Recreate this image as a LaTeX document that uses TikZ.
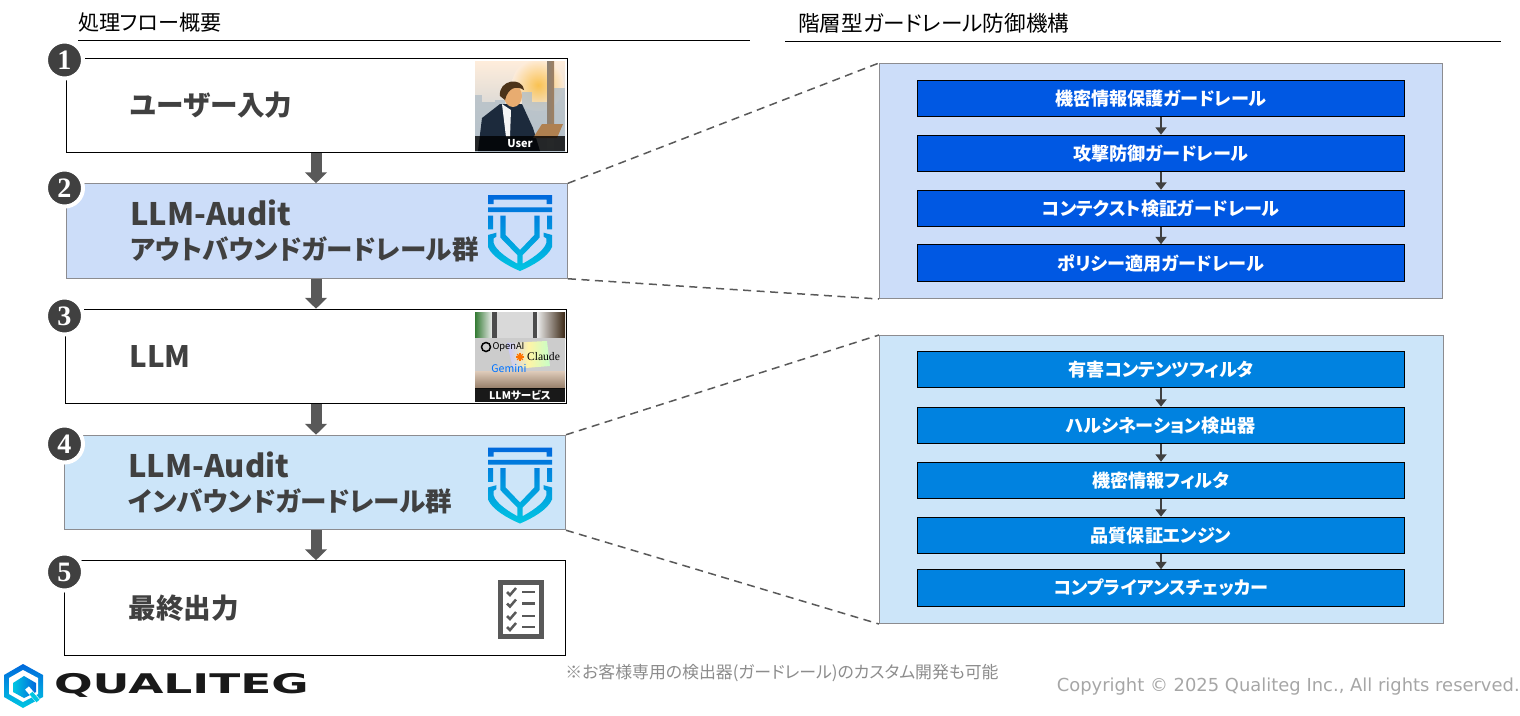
\documentclass[tikz,border=0pt]{standalone}
\usepackage{fontspec}
\usepackage{xcolor}
\setmainfont{Noto Sans CJK JP}[RawFeature={+palt}]
\newfontfamily\cpfont{DejaVu Sans}
\newfontfamily\digitfont{Liberation Serif}
\usetikzlibrary{positioning,calc,arrows.meta}

\definecolor{inkgray}{HTML}{404040}
\definecolor{arrowgray}{HTML}{595959}
\definecolor{edgegray}{HTML}{8C8C90}
\definecolor{outfill}{HTML}{CCDDF9}
\definecolor{infill}{HTML}{CCE5F9}
\definecolor{outblue}{HTML}{0058E3}
\definecolor{inblue}{HTML}{0082E0}
\definecolor{logoblue}{HTML}{0068DC}
\definecolor{logocyan}{HTML}{00C6E2}
\definecolor{suitnavy}{HTML}{1C2A3C}
\definecolor{skyblue}{HTML}{B9C6D0}
\definecolor{deskwood}{HTML}{C9A98C}

\tikzset{
    flowbox/.style={draw=black, line width=0.2mm, minimum width=100.2mm, minimum height=18.9mm,
        inner xsep=12.8mm, inner ysep=0pt, text width=74.6mm, align=left, text=inkgray,
        font=\bfseries\fontsize{15.7}{20.5}\selectfont},
    outbox/.style={flowbox, draw=edgegray, fill=outfill},
    inbox/.style={flowbox, draw=edgegray, fill=infill},
    flowarrow/.style={draw=arrowgray, line width=2.2mm, -{Triangle[length=2.2mm,width=4.3mm]}},
    numdot/.style={circle, fill=inkgray, draw=white, line width=0.8mm, minimum size=7.4mm, inner sep=0pt,
        text=white, font=\digitfont\bfseries\fontsize{16}{16}\selectfont},
    headline/.style={anchor=west, inner sep=0pt, font=\fontsize{12}{14}\selectfont},
    panel/.style={draw=edgegray, line width=0.2mm, anchor=north west, inner sep=0pt},
    guardbox/.style={draw=black, line width=0.2mm, minimum width=97.4mm, minimum height=7.3mm, inner sep=0pt,
        text=white, font=\bfseries\fontsize{10.3}{12}\selectfont},
    guardarrow/.style={draw=inkgray, line width=0.5mm, -{Triangle[length=1.5mm,width=2.2mm]}},
    zoomline/.style={draw=arrowgray, line width=0.3mm, dash pattern=on 1.6mm off 1.1mm},
    phototag/.style={inner sep=0pt, text=white, font=\bfseries\fontsize{6.2}{7}\selectfont},
}

\newcommand{\latinline}[1]{{\fontsize{17.6}{20.5}\selectfont #1}}
\newcommand{\kanaline}[1]{{\fontsize{15.1}{20.5}\selectfont #1}}

% shield mark, top left corner at (#1,#2)
\newcommand{\shieldmark}[2]{
    \begin{scope}[shift={(#1,#2)}]
        \shade[top color=logoblue, bottom color=logocyan]
            (0,0) -- (64,0) -- (64,9) -- (58.5,9) -- (58.5,4.5) -- (5.5,4.5) -- (5.5,9) -- (0,9) -- cycle
            (0,12.3) -- (64,12.3) -- (64,17) -- (0,17) -- cycle
            (0,20.7) -- (5,20.7) -- (5,34.3) -- (0,34.3) -- cycle
            (59,20.7) -- (64,20.7) -- (64,34.3) -- (59,34.3) -- cycle
            (12.3,20.7) -- (17.7,20.7) -- (17.7,40) -- (32,55) -- (46.3,40) -- (46.3,20.7) -- (51.7,20.7) -- (51.7,42.5)
                -- (34.7,60) -- (34.7,72) -- (29.3,72) -- (29.3,60) -- (12.3,42.5) -- cycle
            (0,40) -- (8.3,37.7) -- (8.3,41.7) -- (5.7,43.3) -- (5.7,48)
                .. controls (8,56) and (22,65) .. (32,70) .. controls (42,65) and (56,56) .. (58.3,48)
                -- (58.3,43.3) -- (55.7,41.7) -- (55.7,37.7) -- (64,40) -- (64,52)
                .. controls (60,62) and (44,71) .. (32,76) .. controls (20,71) and (4,62) .. (0,52) -- cycle;
    \end{scope}
}

\begin{document}
\begin{tikzpicture}[x=0.2mm, y=-0.2mm]
    \useasboundingbox (0,0) rectangle (1520,715);

    % Section heads
    \node [headline] (headleft) at (78,23) {処理フロー概要};
    \node [headline, font=\fontsize{12.3}{14}\selectfont] (headright) at (798,23) {階層型ガードレール防御機構};
    \draw [line width=0.2mm] (78,40.5) -- (750,40.5);
    \draw [line width=0.2mm] (785,41) -- (1501,41);

    % Flow boxes
    \node [flowbox] (user) at (317,105.5) {ユーザー入力};
    \node [outbox] (auditout) at (317,231) {\latinline{LLM-Audit}\\[-1.1pt]\kanaline{アウトバウンドガードレール群}};
    \node [flowbox] (llm) at (316,356.5) {\fontsize{16.8}{20.5}\selectfont LLM};
    \node [inbox] (auditin) at (315,482.5) {\latinline{LLM-Audit}\\[-1.1pt]\kanaline{インバウンドガードレール群}};
    \node [flowbox] (final) at (315,608) {最終出力};

    % Arrows between them
    \draw [flowarrow] ([xshift=-0.2mm]user.south) -- ([xshift=-0.2mm]auditout.north);
    \draw [flowarrow] ([xshift=-0.2mm]auditout.south) -- (llm.north);
    \draw [flowarrow] (llm.south) -- (llm.south |- auditin.north);
    \draw [flowarrow] ([xshift=0.2mm]auditin.south) -- ([xshift=0.2mm]final.north);

    % Step numbers
    \foreach \i/\y in {1/60,2/188,3/316,4/444,5/572} {
        \node [numdot] (step\i) at (64.5,\y) {\i};
    }

    % User picture
    \begin{scope}
        \clip (475,61) rectangle (565,151);
        \shade [top color=orange!14!white, bottom color=skyblue] (475,61) rectangle (565,151);
        \shade [inner color=orange!65!yellow!90!white, outer color=orange!14!white, opacity=0.7] (538,85) circle [radius=26];
        \foreach \xa/\ya/\xb in {475/95/482,482/102/495,495/100/505,522/92/532,532/102/547,554/88/565} {
            \fill [skyblue!90!gray, opacity=0.8] (\xa,\ya) rectangle (\xb,151);
        }
        \shade [left color=gray!80!brown, right color=brown!50!gray] (547,61) rectangle (554,135);
        \fill [suitnavy] (478,151) -- (482,118) -- (500,104) -- (522,104) -- (533,128) -- (540,151) -- cycle;
        \fill [white!92!gray] (502,104) -- (511,110) -- (510,137) -- (506,137) -- cycle;
        \fill [orange!45!brown!65!white] (513,96) ellipse [x radius=9, y radius=11];
        \fill [black!60!brown] (500,96) .. controls (498,80) and (522,76) .. (524,90) .. controls (516,85) and (508,88) .. (505,100) -- cycle;
        \fill [brown!75!gray] (542,124) -- (563,124) -- (557,138) -- (533,138) -- cycle;
        \fill [black, opacity=0.8] (475,136) rectangle (565,151);
        \node [phototag] (usertag) at (520,144) {User};
    \end{scope}

    % LLM picture
    \begin{scope}
        \clip (475,312) rectangle (565,402);
        \fill [black!15!white] (475,312) rectangle (565,338);
        \shade [left color=black!65!green!80!white, right color=gray!15!white] (475,312) rectangle (492,338);
        \shade [left color=gray!15!white, right color=black!70!brown] (537,312) rectangle (565,338);
        \foreach \xa/\xb in {492/497,533/537} {
            \fill [black!70!white] (\xa,312) rectangle (\xb,338);
        }
        \fill [gray!40!white] (475,338) rectangle (565,371);
        \shade [left color=blue!22!white, right color=green!22!white, middle color=orange!25!yellow!35!white] (507,343) -- (547,341) -- (550,366) -- (513,369) -- cycle;
        \shade [top color=deskwood!60!white, bottom color=deskwood!75!black] (475,371) rectangle (565,388);
        \fill [black, opacity=0.9] (475,388) rectangle (565,402);
        \draw [black, line width=0.3mm] (486,347) circle [radius=4.5];
        \foreach \a in {0,45,...,315} {
            \draw [orange!90!red, line width=0.25mm] (520,357) -- ++(\a:4);
        }
        \node [inner sep=0pt, text=black, font=\fontsize{5.3}{6}\selectfont] (openai) at (508.5,347) {OpenAI};
        \node [inner sep=0pt, text=black, font=\digitfont\fontsize{6.6}{7}\selectfont] (claude) at (543.5,357) {Claude};
        \node [inner sep=0pt, text=blue!55!cyan, font=\fontsize{6}{7}\selectfont] (gemini) at (509,368) {Gemini};
        \node [phototag, font=\bfseries\fontsize{6}{7}\selectfont] (llmtag) at (520,395) {LLMサービス};
    \end{scope}

    % Shield marks
    \shieldmark{488}{195}
    \shieldmark{488}{447.5}

    % Checklist icon
    \draw [arrowgray, line width=1mm] (500.5,582.5) rectangle (541.5,636.5);
    \foreach \y in {592,603.5,616,627} {
        \draw [arrowgray, line width=0.5mm] (507,\y) -- (510,\y+3) -- (516,\y-4);
        \draw [arrowgray, line width=0.5mm] (522,\y) -- (535,\y);
    }

    % Outbound panel
    \node [panel, fill=outfill, minimum width=112.6mm, minimum height=47mm] (outpanel) at (879,63) {};
    \node [guardbox, fill=outblue] (oa) at (1161,98.5) {機密情報保護ガードレール};
    \node [guardbox, fill=outblue, below=3.5mm of oa] (ob) {攻撃防御ガードレール};
    \node [guardbox, fill=outblue, below=3.5mm of ob] (oc) {コンテクスト検証ガードレール};
    \node [guardbox, fill=outblue, below=3.4mm of oc] (od) {ポリシー適用ガードレール};
    \foreach \a/\b in {oa/ob,ob/oc,oc/od} {
        \draw [guardarrow] (\a.south) -- (\b.north);
    }

    % Inbound panel
    \node [panel, fill=infill, minimum width=112.8mm, minimum height=57.6mm] (inpanel) at (879,335) {};
    \node [guardbox, fill=inblue] (ia) at (1161,369.5) {有害コンテンツフィルタ};
    \node [guardbox, fill=inblue, below=3.7mm of ia] (ib) {ハルシネーション検出器};
    \node [guardbox, fill=inblue, below=3.5mm of ib] (ic) {機密情報フィルタ};
    \node [guardbox, fill=inblue, below=3.5mm of ic] (id) {品質保証エンジン};
    \node [guardbox, fill=inblue, below=3.0mm of id] (ie) {コンプライアンスチェッカー};
    \foreach \a/\b in {ia/ib,ib/ic,ic/id,id/ie} {
        \draw [guardarrow] (\a.south) -- (\b.north);
    }

    % Zoom lines
    \draw [zoomline] (auditout.north east) -- (outpanel.north west);
    \draw [zoomline] (auditout.south east) -- (outpanel.south west);
    \draw [zoomline] (auditin.north east) -- (inpanel.north west);
    \draw [zoomline] (auditin.south east) -- (inpanel.south west);

    % Company mark and footer
    \shade [top color=logoblue, bottom color=logocyan] (23,664) -- (43,675) -- (43,697) -- (23,708) -- (4,697) -- (4,675) -- cycle;
    \fill [white] (23,670) -- (38,678) -- (38,694) -- (23,702) -- (9,694) -- (9,678) -- cycle;
    \shade [left color=logocyan, right color=logoblue] (24,676) -- (36,683) -- (36,692) -- (24,698) -- (13,692) -- (13,683) -- cycle;
    \draw [white, line width=1mm] (27,688) -- (39,702);
    \draw [logocyan, line width=0.8mm] (31,693) -- (38,701);
    \node [inner sep=0pt, anchor=west, xscale=1.68, text=black!90, font=\cpfont\bfseries\fontsize{15.4}{16}\selectfont] (brand) at (53.5,685) {QUALITEG};
    \node [inner sep=0pt, text=gray!90, font=\fontsize{9.6}{12}\selectfont] (note) at (782,673.5) {※お客様専用の検出器(ガードレール)のカスタム開発も可能};
    \node [inner sep=0pt, anchor=east, text=black!35, font=\cpfont\fontsize{10.2}{12}\selectfont] (copyright) at (1520,687) {Copyright © 2025 Qualiteg Inc., All rights reserved.};
\end{tikzpicture}
\end{document}
